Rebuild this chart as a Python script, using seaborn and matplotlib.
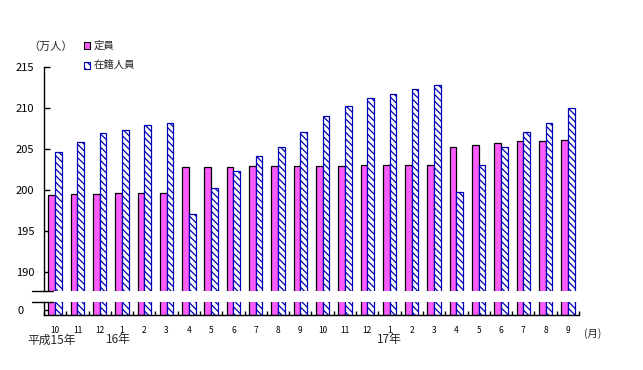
import numpy as np
import pandas as pd
import matplotlib
matplotlib.use('Agg')
import matplotlib.pyplot as plt
import seaborn as sns
from matplotlib.lines import Line2D
from matplotlib.patches import Patch
from matplotlib.transforms import blended_transform_factory

# --- data (万人) ---
months = ['10', '11', '12',
          '1', '2', '3', '4', '5', '6', '7', '8', '9', '10', '11', '12',
          '1', '2', '3', '4', '5', '6', '7', '8', '9']
periods = ['H15-10', 'H15-11', 'H15-12'] + \
          [f'H16-{m}' for m in range(1, 13)] + [f'H17-{m}' for m in range(1, 10)]
teiin = [199.4, 199.5, 199.5,
         199.6, 199.6, 199.6, 202.8, 202.8, 202.8, 202.9, 202.9, 202.9, 202.9, 202.9, 203.0,
         203.0, 203.0, 203.0, 205.2, 205.45, 205.7, 206.0, 206.0, 206.1]
zaiseki = [204.6, 205.9, 207.0,
           207.3, 207.9, 208.2, 197.1, 200.2, 202.3, 204.1, 205.2, 207.1, 209.0, 210.3, 211.2,
           211.7, 212.3, 212.8, 199.7, 203.0, 205.2, 207.1, 208.2, 210.0]
series = ['定員', '在籍人員']
year_labels = ['平成15年', '16年', '17年']
year_pos = [-0.15, 2.85, 15.0]

df = pd.DataFrame({'period': periods * 2,
                   'value': teiin + zaiseki,
                   'series': [series[0]] * len(periods) + [series[1]] * len(periods)})

sns.set_theme(style='white')
plt.rcParams['font.family'] = ['Noto Sans CJK JP', 'DejaVu Sans']
plt.rcParams['hatch.linewidth'] = 0.9

pink = '#FF5CFF'
navy = '#0000B4'

W, H = 643, 370
fig = plt.figure(figsize=(W / 100, H / 100), dpi=100)

def fx(px):
    return px / W

def fy(py):
    return 1 - py / H

left, right = 44, 579
ax = fig.add_axes([fx(left), fy(291), fx(right - left), fy(67) - fy(291)])
axb = fig.add_axes([fx(left), fy(314.5), fx(right - left), fy(302) - fy(314.5)])

for a in (ax, axb):
    sns.barplot(data=df, x='period', y='value', hue='series', order=periods,
                hue_order=series, palette=[pink, 'white'], width=0.6,
                saturation=1, legend=False, ax=a)
    for bar in a.containers[0]:
        bar.set_edgecolor('black')
        bar.set_linewidth(0.9)
    for bar in a.containers[1]:
        bar.set_edgecolor(navy)
        bar.set_hatch('\\\\\\\\\\')
        bar.set_linewidth(0.9)
    a.set_xlim(-0.5, len(periods) - 0.5)
    a.set_xlabel('')
    a.set_ylabel('')
    for s in ['top', 'right']:
        a.spines[s].set_visible(False)
    a.spines['left'].set_color('black')
    a.spines['left'].set_linewidth(1)

# upper part
ax.set_ylim(215 - (291 - 67) / 8.2, 215)
ax.set_yticks([190, 195, 200, 205, 210, 215])
ax.spines['bottom'].set_visible(False)
ax.set_xticks([])
ax.tick_params(axis='y', direction='in', length=4, width=1, pad=7,
               labelsize=8, left=True, colors='black')

# lower part
axb.set_ylim(0, 1)
axb.set_yticks([0.35])
axb.set_yticklabels(['0'])
axb.spines['bottom'].set_color('black')
axb.spines['bottom'].set_linewidth(1)
axb.set_xticks(range(len(periods)))
axb.set_xticklabels(months)
axb.set_xticks(np.arange(-0.5, len(periods), 1), minor=True)
axb.tick_params(axis='x', which='major', length=0, pad=8, labelsize=6, colors='black')
axb.tick_params(axis='x', which='minor', direction='in', length=3, width=1,
                bottom=True, colors='black')
axb.tick_params(axis='y', direction='in', length=4, width=1, pad=15,
                labelsize=8, left=True, colors='black')

# break marks
for yb in (291, 302):
    fig.add_artist(Line2D([fx(32), fx(53)], [fy(yb), fy(yb)], color='black', lw=1))

# year labels under the month ticks
tr = blended_transform_factory(axb.transData, fig.transFigure)
for lab, xp in zip(year_labels, year_pos):
    axb.text(xp, fy(340), lab, transform=tr, ha='center', va='center', fontsize=8.5)

fig.text(fx(593), fy(334), '(月)', ha='center', va='center', fontsize=7.5)
fig.text(fx(51), fy(47), '（万人）', ha='center', va='center', fontsize=8)

handles = [Patch(facecolor=pink, edgecolor='black', linewidth=0.8),
           Patch(facecolor='white', edgecolor=navy, hatch='\\\\\\\\', linewidth=0.8)]
fig.legend(handles, series, loc='upper left', bbox_to_anchor=(fx(84), fy(41)),
           bbox_transform=fig.transFigure, frameon=False, fontsize=7.5,
           handlelength=0.6, handleheight=0.6, handletextpad=0.3,
           labelspacing=0.95, borderpad=0, borderaxespad=0)

fig.savefig('out.png', dpi=100)
